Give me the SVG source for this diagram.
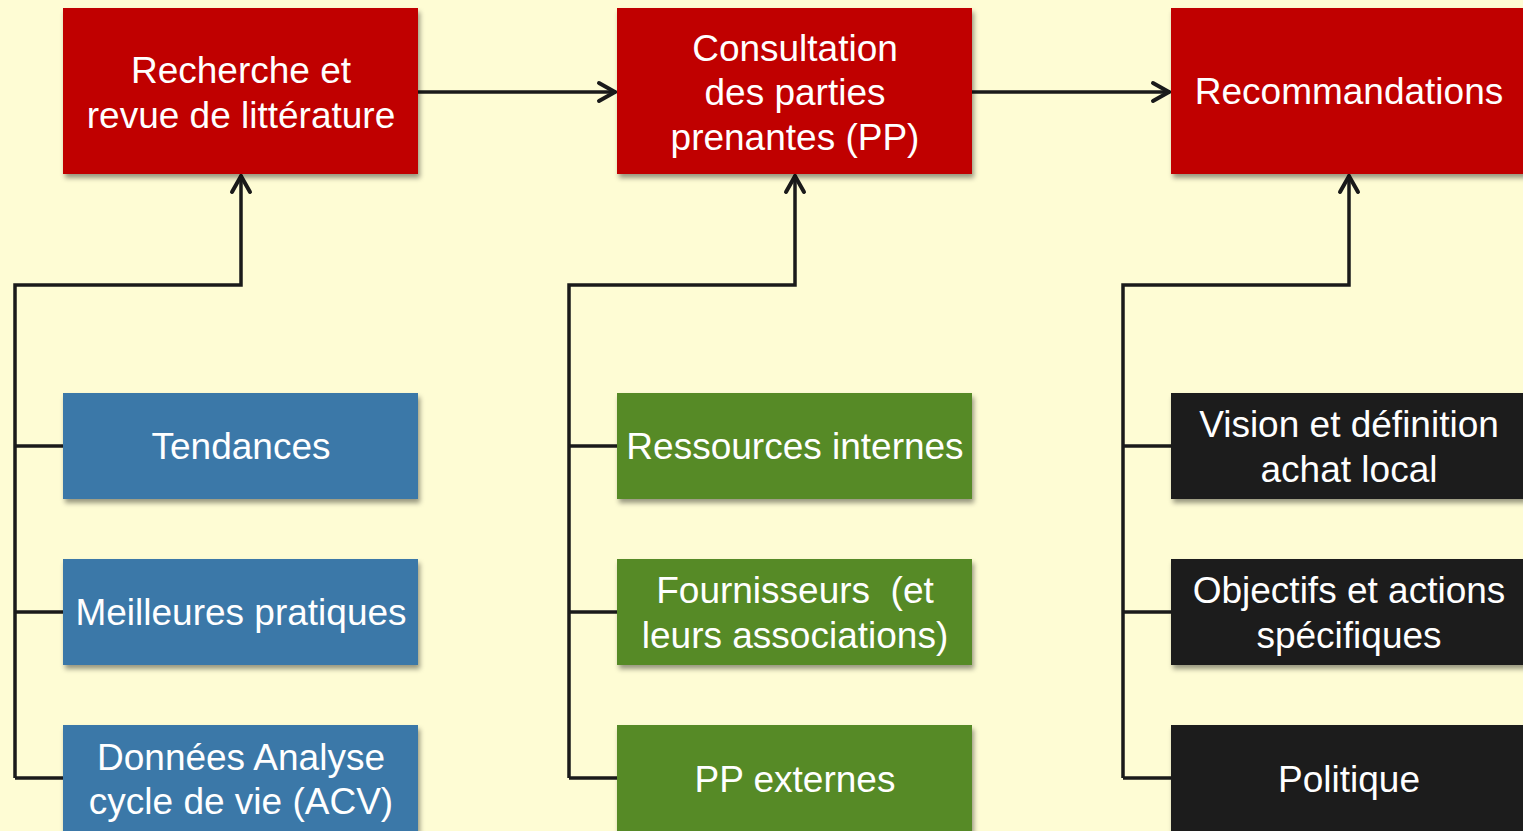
<svg xmlns="http://www.w3.org/2000/svg" width="1523" height="831" viewBox="0 0 1523 831">
<defs>
<filter id="sh" x="-10%" y="-10%" width="130%" height="140%">
<feDropShadow dx="2" dy="4" stdDeviation="2.5" flood-color="#000" flood-opacity="0.4"/>
</filter>
<marker id="arr" viewBox="-20 -13 22 26" refX="0" refY="0" markerWidth="22" markerHeight="26" markerUnits="userSpaceOnUse" orient="auto" overflow="visible">
<path d="M-17,-9 L-1,0 L-17,9" fill="none" stroke="#1a1a1a" stroke-width="4" stroke-linecap="round" stroke-linejoin="miter"/>
</marker>
<style>
text{font-family:"Liberation Sans",Arial,sans-serif;font-size:37px;fill:#fff;text-anchor:middle;white-space:pre}
.red{fill:#C00000}
.blue{fill:#3B78A8}
.green{fill:#568A28}
.black{fill:#1C1C1C}
.ln{fill:none;stroke:#1a1a1a;stroke-width:3.5}
</style>
</defs>
<rect width="1523" height="831" fill="#FEFCD4"/>
<g id="connectors">
<path class="ln" d="M418,92 H616" marker-end="url(#arr)"/>
<path class="ln" d="M972,92 H1170" marker-end="url(#arr)"/>
<path class="ln" d="M15,778 V285 H241 V175" marker-end="url(#arr)"/>
<path class="ln" d="M15,446 H63 M15,612 H63 M15,778 H63"/>
<path class="ln" d="M569,778 V285 H795 V175" marker-end="url(#arr)"/>
<path class="ln" d="M569,446 H617 M569,612 H617 M569,778 H617"/>
<path class="ln" d="M1123,778 V285 H1349 V175" marker-end="url(#arr)"/>
<path class="ln" d="M1123,446 H1171 M1123,612 H1171 M1123,778 H1171"/>
</g>
<g id="n-recherche"><rect class="red" x="63" y="8" width="355" height="166" filter="url(#sh)"/><text x="241" y="83">Recherche et</text><text x="241" y="128">revue de littérature</text></g>
<g id="n-consultation"><rect class="red" x="617" y="8" width="355" height="166" filter="url(#sh)"/><text x="795" y="61">Consultation</text><text x="795" y="105">des parties</text><text x="795" y="150">prenantes (PP)</text></g>
<g id="n-recommandations"><rect class="red" x="1171" y="8" width="355" height="166" filter="url(#sh)"/><text x="1349" y="104">Recommandations</text></g>
<g id="n-tendances"><rect class="blue" x="63" y="393" width="355" height="106" filter="url(#sh)"/><text x="241" y="459">Tendances</text></g>
<g id="n-meilleures"><rect class="blue" x="63" y="559" width="355" height="106" filter="url(#sh)"/><text x="241" y="625">Meilleures pratiques</text></g>
<g id="n-donnees"><rect class="blue" x="63" y="725" width="355" height="106" filter="url(#sh)"/><text x="241" y="770">Données Analyse</text><text x="241" y="814">cycle de vie (ACV)</text></g>
<g id="n-ressources"><rect class="green" x="617" y="393" width="355" height="106" filter="url(#sh)"/><text x="795" y="459">Ressources internes</text></g>
<g id="n-fournisseurs"><rect class="green" x="617" y="559" width="355" height="106" filter="url(#sh)"/><text x="795" y="603">Fournisseurs  (et</text><text x="795" y="648">leurs associations)</text></g>
<g id="n-ppexternes"><rect class="green" x="617" y="725" width="355" height="106" filter="url(#sh)"/><text x="795" y="792">PP externes</text></g>
<g id="n-vision"><rect class="black" x="1171" y="393" width="355" height="106" filter="url(#sh)"/><text x="1349" y="437">Vision et définition</text><text x="1349" y="482">achat local</text></g>
<g id="n-objectifs"><rect class="black" x="1171" y="559" width="355" height="106" filter="url(#sh)"/><text x="1349" y="603">Objectifs et actions</text><text x="1349" y="648">spécifiques</text></g>
<g id="n-politique"><rect class="black" x="1171" y="725" width="355" height="106" filter="url(#sh)"/><text x="1349" y="792">Politique</text></g>
</svg>
